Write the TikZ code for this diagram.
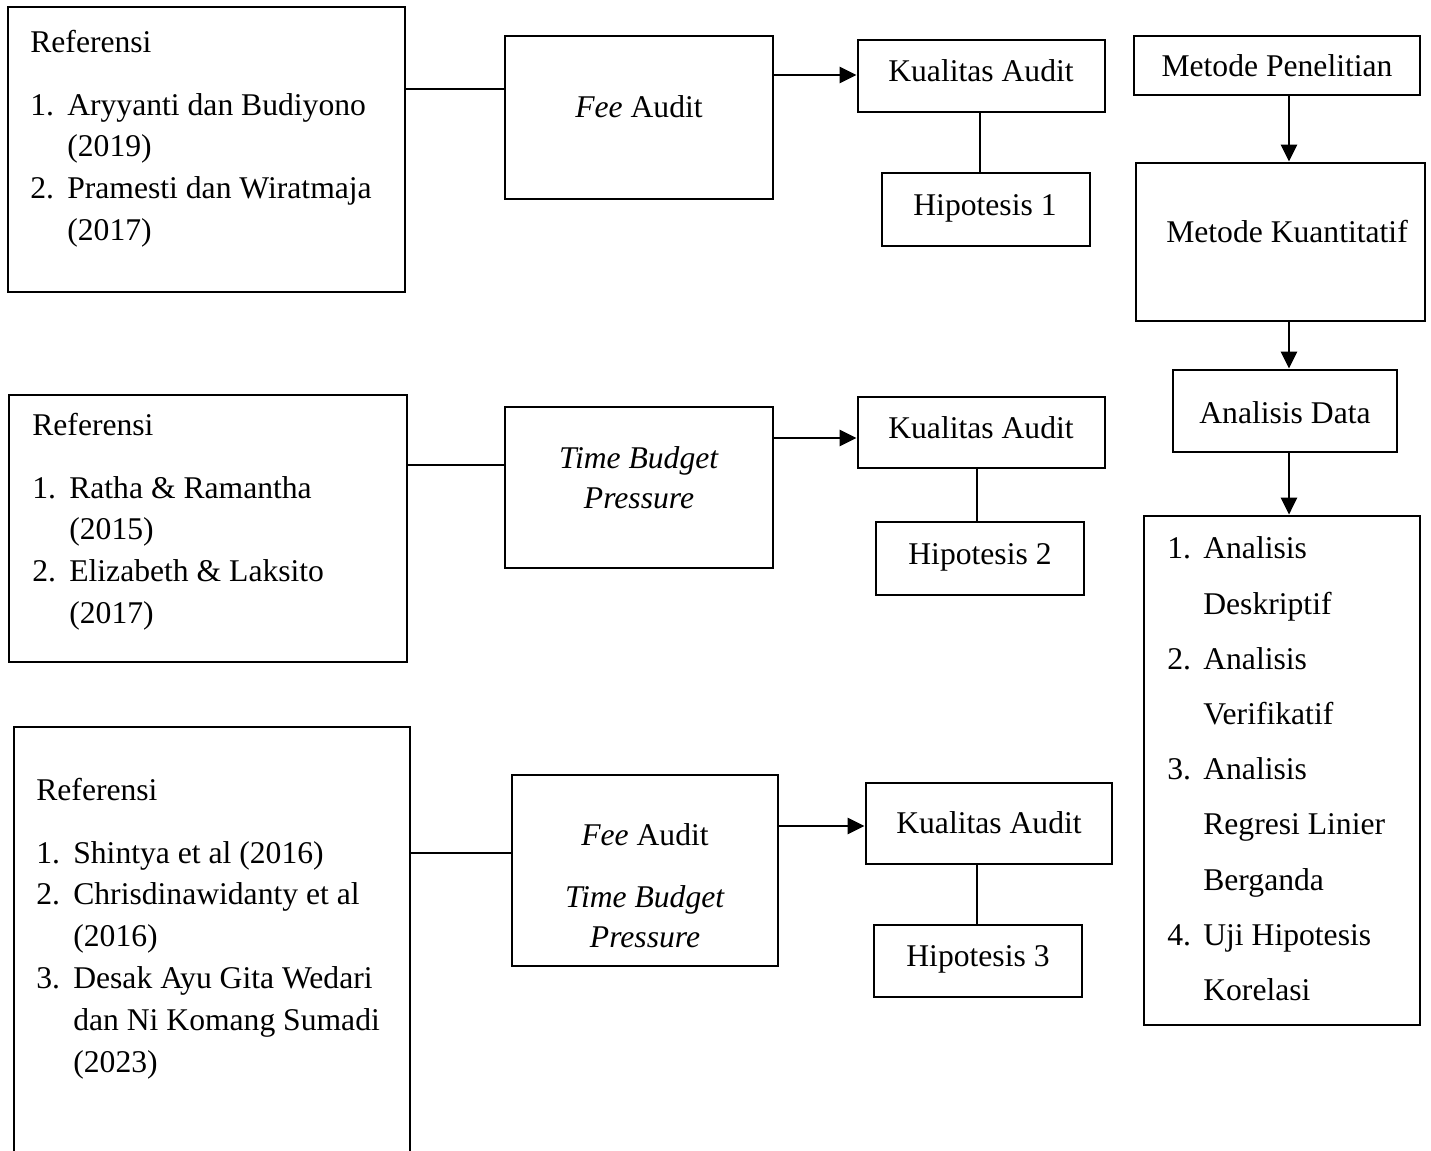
\documentclass[tikz,border=0pt]{standalone}
\usepackage{fontspec}
\setmainfont{Liberation Serif}
\usetikzlibrary{positioning,arrows.meta}

\tikzset{
  kotak/.style 2 args={draw, line width=1.6pt, inner sep=0pt, minimum width=#1, minimum height=#2},
  garis/.style={line width=1.6pt},
  panah/.style={garis, -{Triangle[length=0.34cm,width=0.32cm]}},
  teks/.style={font=\fontsize{18}{23.8}\selectfont, inner sep=0pt, anchor=base},
  daftar/.style={font=\fontsize{18}{23.8}\selectfont, inner sep=0pt, anchor=base west, align=left},
}

\begin{document}
\begin{tikzpicture}[x=0.02cm,y=-0.02cm]
\useasboundingbox (0,0) rectangle (1431,1151);

%%% kotak
% baris 1
\node[kotak={7.94cm}{5.70cm}] (ref1) at (206.5,149.5) {};
\node[kotak={5.36cm}{3.26cm}] (fee1) at (639,117.5) {};
\node[kotak={4.94cm}{1.44cm}] (ka1) at (981.5,76) {};
\node[kotak={4.16cm}{1.46cm}] (h1) at (986,209.5) {};
% baris 2
\node[kotak={7.96cm}{5.34cm}] (ref2) at (208,528.5) {};
\node[kotak={5.36cm}{3.22cm}] (tbp) at (639,487.5) {};
\node[kotak={4.94cm}{1.42cm}] (ka2) at (981.5,432.5) {};
\node[kotak={4.16cm}{1.46cm}] (h2) at (980,558.5) {};
% baris 3
\node[kotak={7.92cm}{8.76cm}] (ref3) at (212,946) {};
\node[kotak={5.32cm}{3.82cm}] (ft) at (645,870.5) {};
\node[kotak={4.92cm}{1.62cm}] (ka3) at (989,823.5) {};
\node[kotak={4.16cm}{1.44cm}] (h3) at (978,961) {};
% metode
\node[kotak={5.72cm}{1.18cm}] (mp) at (1277,65.5) {};
\node[kotak={5.78cm}{3.16cm}] (mk) at (1280.5,242) {};
\node[kotak={4.48cm}{1.64cm}] (ad) at (1285,411) {};
\node[kotak={5.52cm}{10.18cm}] (analisis) at (1282,770.5) {};
%%%

%% teks
\node[daftar] (ref1t) at (30,53) {\begin{tabular}[t]{@{}p{0.74cm}@{}l@{}}
\multicolumn{2}{@{}l@{}}{Referensi}\\[11.5pt]
1. & Aryyanti dan Budiyono\\
   & (2019)\\
2. & Pramesti dan Wiratmaja\\
   & (2017)
\end{tabular}};
\node[teks] (fee1t) at (639,118) {\textit{Fee} Audit};
\node[teks] (ka1t) at (981,82) {Kualitas Audit};
\node[teks] (h1t) at (985,216) {Hipotesis 1};

\node[daftar] (ref2t) at (32,436) {\begin{tabular}[t]{@{}p{0.74cm}@{}l@{}}
\multicolumn{2}{@{}l@{}}{Referensi}\\[11.5pt]
1. & Ratha \& Ramantha\\
   & (2015)\\
2. & Elizabeth \& Laksito\\
   & (2017)
\end{tabular}};
\node[teks] (tbpt1) at (639,469) {\textit{Time Budget}};
\node[teks] (tbpt2) at (639,509) {\textit{Pressure}};
\node[teks] (ka2t) at (981,439) {Kualitas Audit};
\node[teks] (h2t) at (980,565) {Hipotesis 2};

\node[daftar] (ref3t) at (36,801) {\begin{tabular}[t]{@{}p{0.74cm}@{}l@{}}
\multicolumn{2}{@{}l@{}}{Referensi}\\[11.5pt]
1. & Shintya et al (2016)\\
2. & Chrisdinawidanty et al\\
   & (2016)\\
3. & Desak Ayu Gita Wedari\\
   & dan Ni Komang Sumadi\\
   & (2023)
\end{tabular}};
\node[teks] (ftt1) at (645,846) {\textit{Fee} Audit};
\node[teks] (ftt2) at (645,908) {\textit{Time Budget}};
\node[teks] (ftt3) at (645,948) {\textit{Pressure}};
\node[teks] (ka3t) at (989,834) {Kualitas Audit};
\node[teks] (h3t) at (978,967) {Hipotesis 3};

\node[teks] (mpt) at (1277,77) {Metode Penelitian};
\node[teks] (mkt) at (1287,243) {Metode Kuantitatif};
\node[teks] (adt) at (1285,424) {Analisis Data};
\node[daftar, font=\fontsize{18}{31.4}\selectfont] (analisist) at (1167,559) {\begin{tabular}[t]{@{}p{0.72cm}@{}l@{}}
1. & Analisis\\
   & Deskriptif\\
2. & Analisis\\
   & Verifikatif\\
3. & Analisis\\
   & Regresi Linier\\
   & Berganda\\
4. & Uji Hipotesis\\
   & Korelasi
\end{tabular}};

%% garis
\draw[garis] (ref1.east |- 0,89) -- (fee1.west |- 0,89);
\draw[panah] (fee1.east |- 0,75) -- (ka1.west |- 0,75);
\draw[garis] (ka1.south -| 980,0) -- (h1.north -| 980,0);

\draw[garis] (ref2.east |- 0,465) -- (tbp.west |- 0,465);
\draw[panah] (tbp.east |- 0,438) -- (ka2.west |- 0,438);
\draw[garis] (ka2.south -| 977,0) -- (h2.north -| 977,0);

\draw[garis] (ref3.east |- 0,853) -- (ft.west |- 0,853);
\draw[panah] (ft.east |- 0,826) -- (ka3.west |- 0,826);
\draw[garis] (ka3.south -| 977,0) -- (h3.north -| 977,0);

\draw[panah] (mp.south -| 1289,0) -- (mk.north -| 1289,0);
\draw[panah] (mk.south -| 1289,0) -- (ad.north -| 1289,0);
\draw[panah] (ad.south -| 1289,0) -- (analisis.north -| 1289,0);

\end{tikzpicture}
\end{document}
